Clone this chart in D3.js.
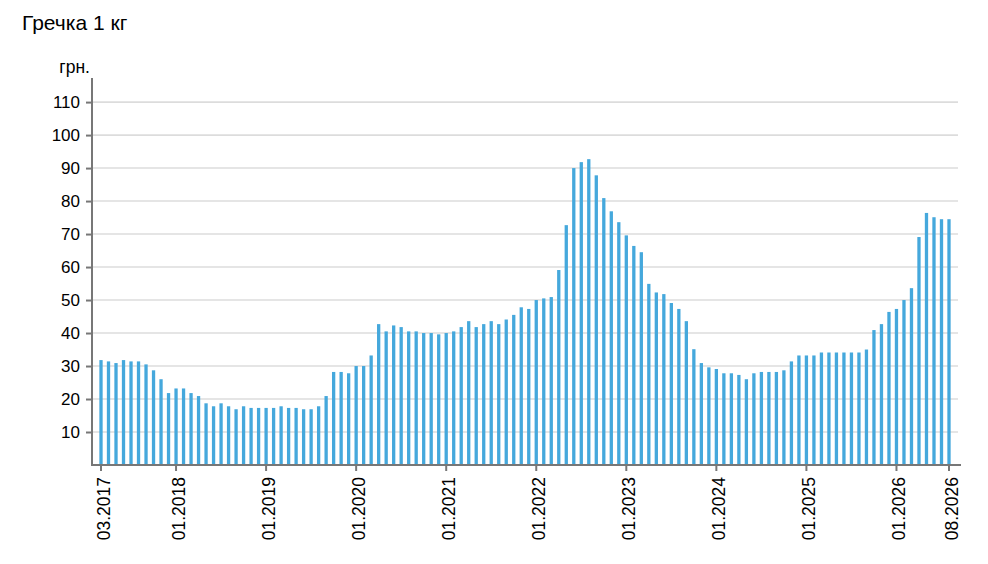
<!DOCTYPE html>
<html><head><meta charset="utf-8">
<script src="https://cdn.jsdelivr.net/npm/d3@7"></script>
<style>
body{margin:0;background:#fff;}
svg{font-family:"Liberation Sans",Arial,sans-serif;}
</style></head>
<body><svg id="c" width="988" height="564"></svg>
<script>
const title = "Гречка 1 кг";
const unit = "грн.";
const startMonth = "2017-03", endMonth = "2026-08";
const values = [
31.8,31.4,30.9,31.8,31.4,31.4,30.5,28.7,26.0,21.8,
23.2,23.2,21.8,20.9,18.7,17.8,18.7,17.8,16.9,17.8,17.3,17.3,
17.3,17.3,17.8,17.3,17.3,16.9,16.9,17.8,20.9,28.2,28.2,27.8,
30.0,30.0,33.2,42.7,40.5,42.3,41.8,40.5,40.5,40.0,40.0,39.6,
40.0,40.5,41.8,43.6,41.8,42.7,43.6,42.7,44.1,45.5,47.8,47.3,
50.0,50.5,50.9,59.1,72.7,90.0,91.8,92.7,87.8,80.9,76.9,73.6,
69.6,66.4,64.5,54.9,52.3,51.8,49.1,47.3,43.6,35.1,30.9,29.6,
29.1,27.8,27.8,27.3,26.0,27.8,28.2,28.2,28.2,28.7,31.4,33.2,
33.2,33.2,34.1,34.1,34.1,34.1,34.1,34.1,35.0,40.9,42.7,46.4,
47.3,50.0,53.6,69.1,76.4,75.1,74.5,74.5
];
const xTickLabels = ["03.2017","01.2018","01.2019","01.2020","01.2021","01.2022","01.2023","01.2024","01.2025","01.2026","08.2026"];
const yTicks = [10,20,30,40,50,60,70,80,90,100,110];

const fmt = d3.timeFormat("%m.%Y");
const parse = d3.timeParse("%Y-%m");
const months = d3.timeMonth.range(parse(startMonth), d3.timeMonth.offset(parse(endMonth),1)).map(fmt);
const data = months.map((m,i)=>({m, v:values[i]}));

const svg = d3.select("#c");
const x = d3.scaleBand().domain(months).range([97.25, 952.75]).paddingInner(0.57).paddingOuter(0.285);
const y = d3.scaleLinear().domain([0,117.3]).range([465,78]);
const axisLeft = 92, axisRight = 961;
const fontFam = "Liberation Sans, Arial, sans-serif";

svg.append("text").attr("x",22).attr("y",30).attr("font-size",21).attr("fill","#000").text(title);
svg.append("text").attr("x",90).attr("y",73).attr("font-size",17.5).attr("text-anchor","end").attr("fill","#000").text(unit);

// gridlines
svg.append("g").selectAll("line").data(yTicks).join("line")
  .attr("x1",axisLeft).attr("x2",958).attr("y1",d=>y(d)).attr("y2",d=>y(d))
  .attr("stroke","#dcdcdc").attr("stroke-width",1.6);

// bars
svg.append("g").selectAll("rect").data(data).join("rect")
  .attr("x",d=>x(d.m)+ (x.bandwidth()-3.3)/2).attr("width",3.3)
  .attr("y",d=>y(d.v)).attr("height",d=>y(0)-y(d.v))
  .attr("fill","#45a8dc");

// y axis
const ya = svg.append("g").attr("transform",`translate(${axisLeft},0)`)
  .call(d3.axisLeft(y).tickValues(yTicks).tickSize(6).tickPadding(6));
ya.select(".domain").remove();
ya.selectAll(".tick line").attr("stroke","#777").attr("stroke-width",2);
ya.selectAll(".tick text").attr("font-size",17).attr("fill","#000").attr("font-family",fontFam);
svg.append("line").attr("x1",axisLeft).attr("x2",axisLeft).attr("y1",78).attr("y2",466).attr("stroke","#777").attr("stroke-width",2);

// x axis
const xa = svg.append("g").attr("transform","translate(0,465)")
  .call(d3.axisBottom(x).tickValues(xTickLabels).tickSize(6).tickPadding(6));
xa.select(".domain").remove();
xa.selectAll(".tick line").attr("stroke","#777").attr("stroke-width",2);
xa.selectAll(".tick text").attr("font-size",17.5).attr("fill","#000").attr("font-family",fontFam)
  .attr("text-anchor","end").attr("transform","rotate(-90)").attr("x",-12).attr("y",0).attr("dy","0.5em");
svg.append("line").attr("x1",axisLeft-1).attr("x2",axisRight).attr("y1",465).attr("y2",465).attr("stroke","#777").attr("stroke-width",2);
</script></body></html>
